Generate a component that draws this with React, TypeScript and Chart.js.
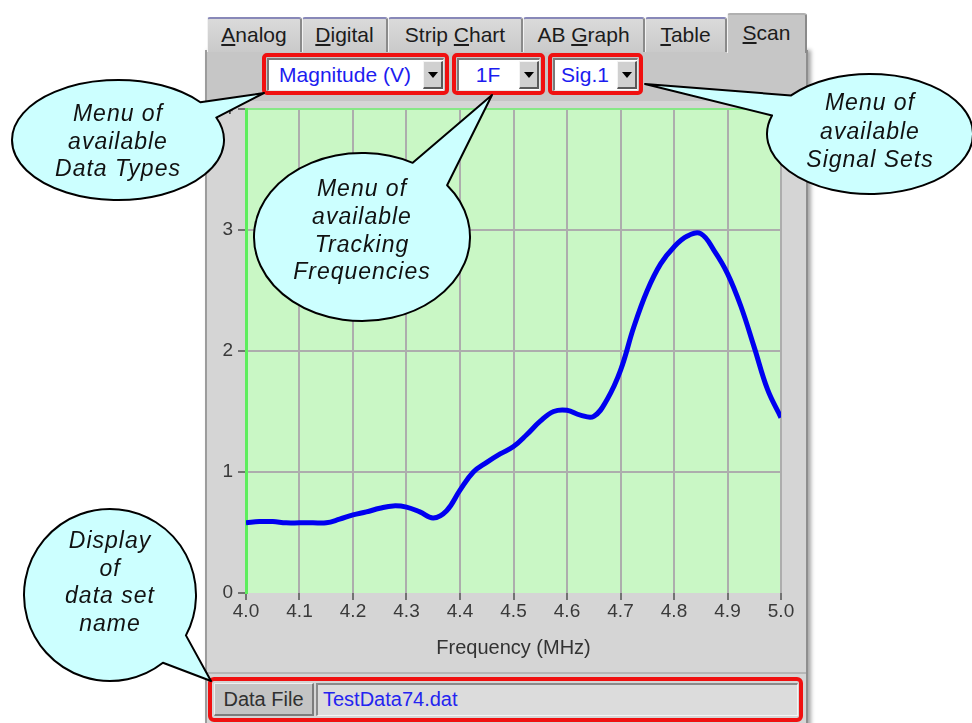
import React, { useEffect, useRef } from "react";
import { Chart, registerables } from "chart.js";

Chart.register(...registerables);

// ---- Data ----
const FREQUENCY_MHZ = [
  4.0, 4.025, 4.05, 4.075, 4.1, 4.125, 4.15, 4.175, 4.2, 4.225, 4.25, 4.275, 4.3, 4.325,
  4.35, 4.375, 4.4, 4.425, 4.45, 4.475, 4.5, 4.525, 4.55, 4.575, 4.6, 4.625, 4.65, 4.675,
  4.7, 4.725, 4.75, 4.775, 4.8, 4.825, 4.85, 4.875, 4.9, 4.925, 4.95, 4.975, 5.0,
];
const MAGNITUDE_V = [
  0.58, 0.59, 0.59, 0.58, 0.58, 0.58, 0.58, 0.61, 0.645, 0.67, 0.7, 0.72, 0.71, 0.67,
  0.62, 0.68, 0.85, 1.0, 1.08, 1.15, 1.21, 1.31, 1.42, 1.5, 1.51, 1.47, 1.46, 1.6,
  1.84, 2.2, 2.5, 2.72, 2.86, 2.95, 2.97, 2.83, 2.64, 2.37, 2.03, 1.68, 1.45,
];
const X_MIN = 4.0;
const X_MAX = 5.0;
const X_STEP = 0.1;
const Y_MIN = 0;
const Y_MAX = 4;
const Y_STEP = 1;
const X_TITLE = "Frequency (MHz)";

const TAB_LABELS = ["Analog", "Digital", "Strip Chart", "AB Graph", "Table", "Scan"];
const TAB_UNDERLINE = [0, 0, 6, 3, 0, 0];
const MENU_LABELS = ["Magnitude (V)", "1F", "Sig.1"];
const DATA_FILE_LABEL = "Data File";
const DATA_FILE_NAME = "TestData74.dat";

const CALLOUT_TEXTS = [
  ["Menu of", "available", "Data Types"],
  ["Menu of", "available", "Tracking", "Frequencies"],
  ["Menu of", "available", "Signal Sets"],
  ["Display", "of", "data set", "name"],
];

const UI_FONT = "'Liberation Sans', Arial, sans-serif";

// layout geometry (not data)
const TAB_GEOM = [
  { x: 207, w: 95 },
  { x: 302, w: 86 },
  { x: 388, w: 135 },
  { x: 523, w: 122 },
  { x: 645, w: 82 },
  { x: 727, w: 80 },
];
const MENU_GEOM = [
  { x: 262, w: 187 },
  { x: 452, w: 93 },
  { x: 548, w: 95 },
];
const CALLOUT_GEOM = [
  { cx: 118, cy: 140, rx: 106, ry: 60, a1: -22, a2: -39, tx: 264, ty: 93, lines: [115, 143, 170] },
  { cx: 362, cy: 237, rx: 108, ry: 84, a1: -38, a2: -62, tx: 492, ty: 95, lines: [190, 218, 246, 273] },
  { cx: 870, cy: 134, rx: 103, ry: 60, a1: -140, a2: -162, tx: 645, ty: 84, lines: [104, 133, 161] },
  { cx: 110, cy: 595, rx: 86, ry: 86, a1: 52, a2: 28, tx: 211, ty: 681, lines: [542, 570, 597, 625] },
];

function calloutPath(g: any) {
  const p = (a: number) => [
    g.cx + g.rx * Math.cos((a * Math.PI) / 180),
    g.cy + g.ry * Math.sin((a * Math.PI) / 180),
  ];
  const [x1, y1] = p(g.a1);
  const [x2, y2] = p(g.a2);
  return `M ${x1} ${y1} A ${g.rx} ${g.ry} 0 1 1 ${x2} ${y2} L ${g.tx} ${g.ty} Z`;
}

function TabLabel({ text, ul }: { text: string; ul: number }) {
  return (
    <span>
      {text.slice(0, ul)}
      <u>{text.charAt(ul)}</u>
      {text.slice(ul + 1)}
    </span>
  );
}

function Menu({ x, w, text }: { x: number; w: number; text: string }) {
  const fieldLeft = x + 5;
  const fieldW = w - 10;
  const btnW = 20;
  return (
    <>
      <div
        style={{
          position: "absolute",
          left: x,
          top: 53,
          width: w,
          height: 42,
          boxSizing: "border-box",
          border: "4px solid #f01010",
          borderRadius: 5,
          background: "#c6c6c6",
        }}
      />
      <div
        style={{
          position: "absolute",
          left: fieldLeft,
          top: 58,
          width: fieldW,
          height: 33,
          boxSizing: "border-box",
          background: "#ffffff",
          borderTop: "2px solid #7a7a7a",
          borderLeft: "2px solid #7a7a7a",
          borderBottom: "1px solid #e8e8e8",
          borderRight: "1px solid #e8e8e8",
        }}
      />
      <div
        style={{
          position: "absolute",
          left: fieldLeft + 2,
          top: 60,
          width: fieldW - btnW - 5,
          height: 30,
          lineHeight: "30px",
          textAlign: "center",
          color: "#1c1cf0",
          fontSize: 21,
          fontFamily: UI_FONT,
          whiteSpace: "nowrap",
        }}
      >
        {text}
      </div>
      <div
        style={{
          position: "absolute",
          left: x + w - 6 - btnW,
          top: 61,
          width: btnW,
          height: 28,
          boxSizing: "border-box",
          background: "#d0d0d0",
          borderTop: "1px solid #f4f4f4",
          borderLeft: "1px solid #f4f4f4",
          borderBottom: "2px solid #5a5a5a",
          borderRight: "2px solid #5a5a5a",
        }}
      >
        <div
          style={{
            position: "absolute",
            left: 4,
            top: 10,
            width: 0,
            height: 0,
            borderLeft: "5px solid transparent",
            borderRight: "5px solid transparent",
            borderTop: "6px solid #000",
          }}
        />
      </div>
    </>
  );
}

export default function App() {
  const canvasRef = useRef<HTMLCanvasElement | null>(null);

  useEffect(() => {
    const canvas = canvasRef.current;
    if (!canvas) return;
    const plotBg = {
      id: "plotBg",
      beforeDraw(chart: any) {
        const { ctx, chartArea: a } = chart;
        ctx.save();
        ctx.fillStyle = "#c9f7c5";
        ctx.fillRect(a.left, a.top, a.right - a.left, a.bottom - a.top);
        ctx.restore();
      },
    };
    const tickFont = { family: UI_FONT, size: 19 };
    const chart = new Chart(canvas, {
      type: "line",
      data: {
        datasets: [
          {
            data: FREQUENCY_MHZ.map((f, i) => ({ x: f, y: MAGNITUDE_V[i] })),
            borderColor: "#0000f0",
            borderWidth: 5,
            pointRadius: 0,
            tension: 0.4,
            fill: false,
          },
        ],
      },
      options: {
        animation: false,
        responsive: false,
        events: [],
        layout: { autoPadding: false, padding: { left: 0, top: 9, right: 26, bottom: 0 } },
        plugins: { legend: { display: false }, tooltip: { enabled: false } },
        scales: {
          x: {
            type: "linear",
            min: X_MIN,
            max: X_MAX,
            ticks: {
              stepSize: X_STEP,
              autoSkip: false,
              maxRotation: 0,
              padding: 0,
              color: "#3a3a3a",
              font: tickFont,
              callback: (v: any) => Number(v).toFixed(1),
            },
            grid: {
              color: (c: any) => (c.tick && Math.abs(c.tick.value - X_MIN) < 1e-6 ? "rgba(0,0,0,0)" : "#adadad"),
              lineWidth: 2,
              tickColor: "#505050",
              tickLength: 7,
              tickWidth: 1.5,
            },
            border: { display: false },
            title: {
              display: true,
              text: X_TITLE,
              color: "#333333",
              font: { family: UI_FONT, size: 20 },
              padding: { top: 0, bottom: 16 },
            },
            afterFit: (s: any) => {
              s.height = 83;
              s.paddingLeft = 0;
              s.paddingRight = 0;
            },
          },
          y: {
            type: "linear",
            min: Y_MIN,
            max: Y_MAX,
            ticks: {
              stepSize: Y_STEP,
              padding: 5,
              color: "#3a3a3a",
              font: tickFont,
            },
            grid: {
              color: (c: any) => (c.tick && c.tick.value === Y_MAX ? "#86e886" : c.tick && c.tick.value === Y_MIN ? "rgba(0,0,0,0)" : "#adadad"),
              lineWidth: 2,
              tickColor: "#505050",
              tickLength: 8,
              tickWidth: 1.5,
            },
            border: { display: true, color: "#5cee5c", width: 3 },
            afterFit: (s: any) => {
              s.width = 39;
              s.paddingTop = 0;
              s.paddingBottom = 0;
            },
          },
        },
      } as any,
      plugins: [plotBg],
    });
    return () => chart.destroy();
  }, []);

  return (
    <div
      style={{
        position: "absolute",
        left: 0,
        top: 0,
        width: 972,
        height: 723,
        overflow: "hidden",
        background: "#ffffff",
        fontFamily: UI_FONT,
      }}
    >
      {/* panel body */}
      <div
        style={{
          position: "absolute",
          left: 205,
          top: 50,
          width: 603,
          height: 680,
          boxSizing: "border-box",
          background: "#d5d5d5",
          borderLeft: "2px solid #9c9c9c",
          borderRight: "2px solid #8e8e8e",
          boxShadow: "3px 0 4px rgba(0,0,0,0.35)",
        }}
      />
      {/* menu band */}
      <div style={{ position: "absolute", left: 207, top: 52, width: 599, height: 49, background: "#c6c6c6" }} />
      {/* divider above data-file row */}
      <div style={{ position: "absolute", left: 207, top: 672, width: 599, height: 2, background: "#b6b6b6" }} />

      {/* tabs */}
      {TAB_LABELS.map((t, i) => {
        const g = TAB_GEOM[i];
        const selected = i === TAB_LABELS.length - 1;
        return (
          <div
            key={t}
            style={{
              position: "absolute",
              left: g.x,
              top: selected ? 13 : 17,
              width: g.w,
              height: selected ? 40 : 35,
              boxSizing: "border-box",
              background: selected ? "#c6c6c6" : "linear-gradient(#dadada, #cacaca)",
              borderTop: selected ? "2px solid #b0b0b0" : "2px solid #8888b8",
              borderLeft: "1px solid #f2f2f2",
              borderRight: "2px solid #8a8a8a",
              borderRadius: "3px 3px 0 0",
              textAlign: "center",
              lineHeight: selected ? "36px" : "32px",
              fontSize: 21,
              color: "#1c1c1c",
              whiteSpace: "nowrap",
            }}
          >
            <TabLabel text={t} ul={TAB_UNDERLINE[i]} />
          </div>
        );
      })}

      {/* menus */}
      {MENU_LABELS.map((m, i) => (
        <Menu key={m} x={MENU_GEOM[i].x} w={MENU_GEOM[i].w} text={m} />
      ))}

      {/* chart */}
      <canvas
        ref={canvasRef}
        width={600}
        height={576}
        style={{ position: "absolute", left: 207, top: 100, width: 600, height: 576 }}
      />

      {/* data file row */}
      <div
        style={{
          position: "absolute",
          left: 208,
          top: 677,
          width: 595,
          height: 45,
          boxSizing: "border-box",
          border: "4px solid #f01010",
          borderRadius: 6,
          background: "#d5d5d5",
        }}
      />
      <div
        style={{
          position: "absolute",
          left: 214,
          top: 683,
          width: 100,
          height: 33,
          boxSizing: "border-box",
          background: "#c4c4c4",
          borderTop: "1px solid #efefef",
          borderLeft: "1px solid #efefef",
          borderBottom: "2px solid #7c7c7c",
          borderRight: "2px solid #7c7c7c",
          textAlign: "center",
          lineHeight: "30px",
          fontSize: 20,
          color: "#303030",
          whiteSpace: "nowrap",
        }}
      >
        {DATA_FILE_LABEL}
      </div>
      <div
        style={{
          position: "absolute",
          left: 316,
          top: 683,
          width: 482,
          height: 33,
          boxSizing: "border-box",
          background: "#dcdcdc",
          borderTop: "2px solid #8a8a8a",
          borderLeft: "2px solid #8a8a8a",
          borderBottom: "1px solid #f4f4f4",
          borderRight: "1px solid #f4f4f4",
          paddingLeft: 5,
          lineHeight: "29px",
          fontSize: 20,
          color: "#2424f0",
          whiteSpace: "nowrap",
        }}
      >
        {DATA_FILE_NAME}
      </div>

      {/* callouts */}
      <svg
        width={972}
        height={723}
        style={{ position: "absolute", left: 0, top: 0, pointerEvents: "none" }}
      >
        {CALLOUT_GEOM.map((g, i) => (
          <g key={i}>
            <path d={calloutPath(g)} fill="#ccffff" stroke="#000" strokeWidth={2} strokeLinejoin="round" />
            {CALLOUT_TEXTS[i].map((line, j) => (
              <text
                key={j}
                x={g.cx}
                y={g.lines[j]}
                textAnchor="middle"
                dominantBaseline="middle"
                fontFamily={UI_FONT}
                fontStyle="italic"
                fontSize={23}
                fill="#111"
                style={{ letterSpacing: "1px" }}
              >
                {line}
              </text>
            ))}
          </g>
        ))}
      </svg>
    </div>
  );
}
